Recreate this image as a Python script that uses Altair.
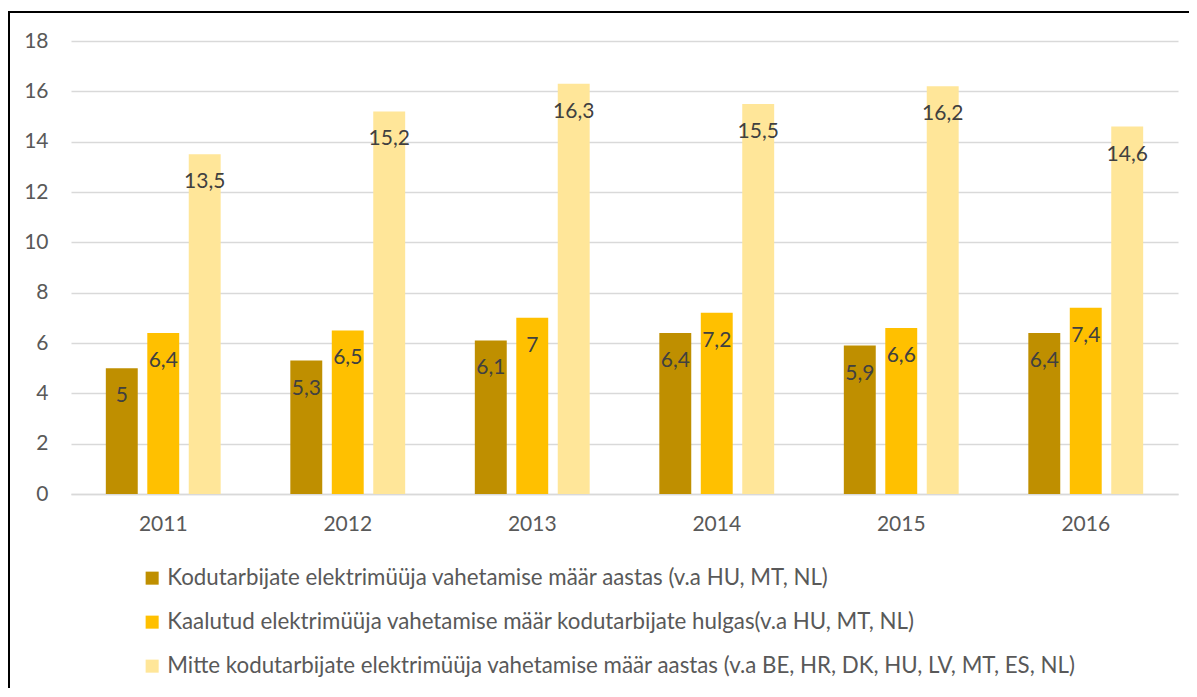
import altair as alt
import pandas as pd

years = ["2011", "2012", "2013", "2014", "2015", "2016"]
series_names = [
    "Kodutarbijate elektrimüüja vahetamise määr aastas (v.a HU, MT, NL)",
    "Kaalutud elektrimüüja vahetamise määr kodutarbijate hulgas(v.a HU, MT, NL)",
    "Mitte kodutarbijate elektrimüüja vahetamise määr aastas (v.a BE, HR, DK, HU, LV, MT, ES, NL)",
]
s1 = [5, 5.3, 6.1, 6.4, 5.9, 6.4]
s2 = [6.4, 6.5, 7, 7.2, 6.6, 7.4]
s3 = [13.5, 15.2, 16.3, 15.5, 16.2, 14.6]
colors = ["#BF8F00", "#FFC000", "#FFE699"]

rows = []
for name, vals in zip(series_names, [s1, s2, s3]):
    for y, v in zip(years, vals):
        rows.append({"year": y, "series": name, "value": v,
                     "label": f"{v:g}".replace(".", ",")})
df = pd.DataFrame(rows)

FONT = "Lato"
W, H = 1107, 453

x = alt.X("year:N", title=None,
          scale=alt.Scale(paddingInner=0, paddingOuter=0),
          axis=alt.Axis(labelAngle=0, ticks=False, domainColor="#D9D9D9",
                        domainWidth=1.5, labelPadding=19, labelFontSize=21,
                        labelColor="#595959", labelFont=FONT))
xo = alt.XOffset("series:N", sort=series_names,
                 scale=alt.Scale(paddingInner=0.23, paddingOuter=0.84))
y = alt.Y("value:Q", title=None,
          scale=alt.Scale(domain=[0, 18], nice=False),
          axis=alt.Axis(values=list(range(0, 19, 2)), ticks=False, domain=False,
                        gridColor="#D9D9D9", gridWidth=1.5, labelPadding=23,
                        labelFontSize=21, labelColor="#595959", labelFont=FONT))

base = alt.Chart(df)
bars = base.mark_bar().encode(
    x=x, xOffset=xo, y=y,
    color=alt.Color("series:N", sort=series_names,
                    scale=alt.Scale(domain=series_names, range=colors),
                    legend=alt.Legend(title=None, orient="none", legendX=70,
                                      legendY=526, direction="vertical",
                                      symbolType="square", symbolSize=170,
                                      symbolStrokeWidth=0, labelFontSize=22.3,
                                      labelColor="#595959", labelFont=FONT,
                                      rowPadding=21, labelLimit=1100,
                                      labelOffset=4)),
)
texts = base.mark_text(baseline="middle", dy=28, fontSize=21, color="#404040",
                       font=FONT).encode(
    x=x, xOffset=xo, y=y, text="label:N")

border = alt.Chart(pd.DataFrame({"a": [0]})).mark_rect(
    fill=None, stroke="#000000", strokeWidth=2, clip=False).encode(
    x=alt.value(-62), x2=alt.value(1200), y=alt.value(-29), y2=alt.value(700))

chart = alt.layer(bars, texts, border).properties(
    width=W, height=H,
    autosize=alt.AutoSizeParams(type="none"),
    padding={"left": 63, "top": 33, "right": 11, "bottom": 194},
).configure_view(stroke=None)

chart.save("out.html", embed_options={"renderer": "svg", "actions": False})
